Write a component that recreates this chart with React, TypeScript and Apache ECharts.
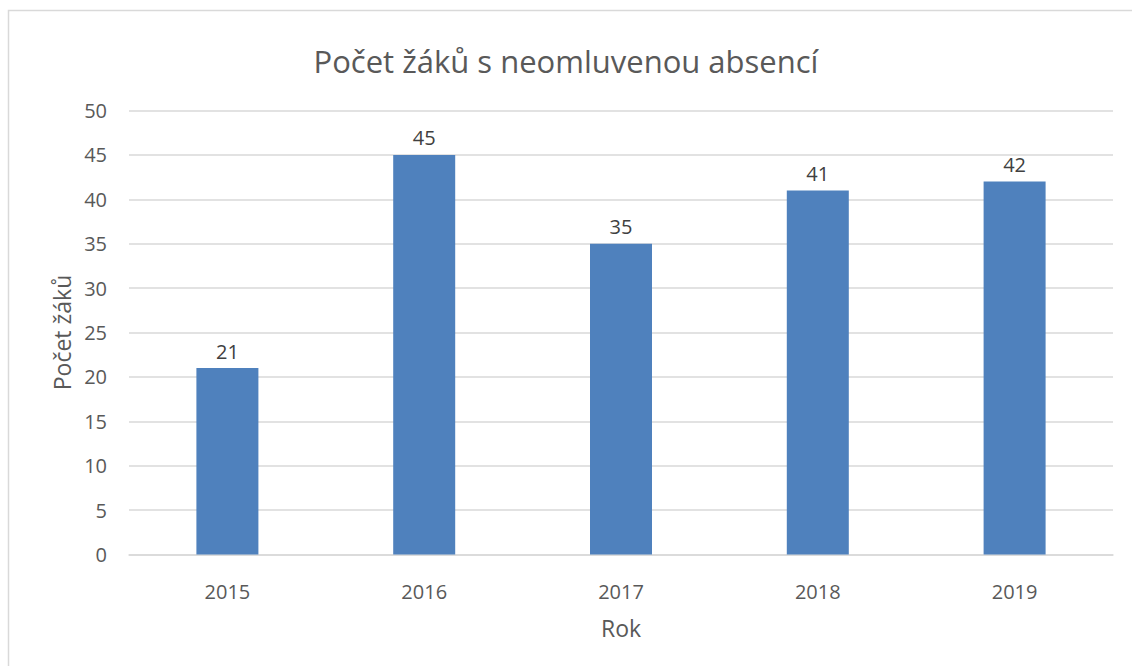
import React, { useEffect, useRef } from "react";
import * as echarts from "echarts";

const years = ["2015", "2016", "2017", "2018", "2019"];
const pupils = [21, 45, 35, 41, 42];
const titleText = "Počet žáků s neomluvenou absencí";
const xName = "Rok";
const yName = "Počet žáků";

const FONT = "'Open Sans', 'Noto Sans', sans-serif";

export default function App() {
  const ref = useRef<HTMLDivElement>(null);
  useEffect(() => {
    if (!ref.current) return;
    const chart = echarts.init(ref.current, undefined, { renderer: "svg" });
    chart.setOption({
      animation: false,
      backgroundColor: "#ffffff",
      textStyle: { fontFamily: FONT },
      title: {
        text: titleText,
        left: "center",
        top: 40,
        textStyle: { fontFamily: FONT, fontSize: 31, fontWeight: "normal", color: "#595959" },
      },
      graphic: [
        {
          type: "rect",
          shape: { x: 8.5, y: 10.5, width: 1300, height: 800 },
          style: { fill: "none", stroke: "#d9d9d9", lineWidth: 1.5 },
          silent: true,
        },
      ],
      grid: { left: 129, right: 19, top: 110.5, bottom: 111.5, containLabel: false },
      xAxis: {
        type: "category",
        data: years,
        name: xName,
        nameLocation: "middle",
        nameGap: 62,
        nameTextStyle: { fontFamily: FONT, fontSize: 23, color: "#595959" },
        axisLine: { show: true, lineStyle: { color: "#d9d9d9", width: 1.5 } },
        axisTick: { show: false },
        axisLabel: { fontFamily: FONT, fontSize: 20, color: "#595959", margin: 27 },
        splitLine: { show: false },
      },
      yAxis: {
        type: "value",
        min: 0,
        max: 50,
        interval: 5,
        name: yName,
        nameLocation: "middle",
        nameGap: 56,
        nameRotate: 90,
        nameTextStyle: { fontFamily: FONT, fontSize: 23, color: "#595959" },
        axisLine: { show: false },
        axisTick: { show: false },
        axisLabel: {
          fontFamily: FONT,
          fontSize: 20,
          color: "#595959",
          margin: 22,
          padding: [8, 0, 0, 0],
        },
        splitLine: { show: true, lineStyle: { color: "#d9d9d9", width: 1.5 } },
      },
      series: [
        {
          type: "bar",
          data: pupils,
          barWidth: 62,
          itemStyle: { color: "#4f81bd" },
          label: {
            show: true,
            position: "top",
            distance: 7,
            fontFamily: FONT,
            fontSize: 20,
            color: "#404040",
          },
        },
      ],
    });
    return () => chart.dispose();
  }, []);
  return (
    <div
      ref={ref}
      style={{ position: "fixed", left: 0, top: 0, width: 1132, height: 666 }}
    />
  );
}
